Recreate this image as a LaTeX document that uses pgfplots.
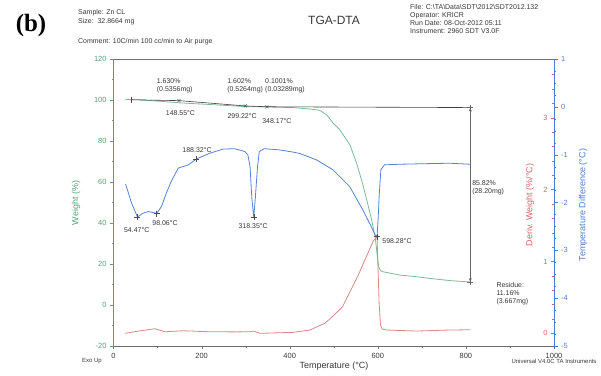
\documentclass[border=0pt]{standalone}
\usepackage{pgfplots}
\pgfplotsset{compat=1.18}
\usepackage{fontspec}
\setmainfont{Liberation Sans}
\newfontfamily\timesfont{Liberation Serif}
\usetikzlibrary{arrows.meta}

\definecolor{gax}{RGB}{85,160,115}
\definecolor{gline}{RGB}{125,185,150}
\definecolor{bax}{RGB}{75,125,210}
\definecolor{bline}{RGB}{85,130,210}
\definecolor{rax}{RGB}{205,105,105}
\definecolor{rline}{RGB}{215,135,135}
\definecolor{txt}{RGB}{55,55,55}
\definecolor{lgray}{RGB}{110,110,110}

\tikzset{annot/.style={font=\fontsize{7}{8.3}\selectfont, text=txt, inner sep=0}}

\pgfplotstableread{
T W
27 100.3
40 100.2
68 100.0
105 99.4
151 98.6
219 97.8
298 96.8
348 96.6
408 96.3
446 95.6
468 95.0
485 92.5
499 88.6
514 85.4
537 78.0
552 69.1
565 59.5
575 51.2
586 41.5
594 33.3
599 23.6
602 18.7
606 16.8
612 16.2
650 14.6
688 13.8
725 12.8
764 11.9
810 11.2
}\weight

\pgfplotstableread{
T D
27.5 -1.615
41 -2.013
54.47 -2.304
67 -2.223
79 -2.189
90 -2.210
98.06 -2.231
109 -2.082
120 -1.803
131 -1.560
147 -1.281
170 -1.213
188.32 -1.089
219 -0.969
249 -0.883
275 -0.875
298 -0.934
305 -1.003
310 -1.247
314 -1.900
318.35 -2.304
322 -1.900
327 -1.247
331 -0.934
342 -0.875
377 -0.900
410 -0.950
423 -0.975
461 -1.110
498 -1.315
536 -1.666
566 -2.154
585 -2.501
594 -2.680
598.28 -2.711
601 -2.300
603 -1.876
607 -1.315
615 -1.213
649 -1.200
700 -1.190
763 -1.179
810 -1.200
}\dta

\pgfplotstableread{
T R
26 0.000
60 0.035
94 0.064
117 0.022
158 0.036
219 0.022
280 0.020
310 0.022
317 0.032
333 0.000
408 0.014
446 0.046
465 0.100
480 0.140
500 0.250
520 0.370
537 0.580
555 0.800
567 0.970
580 1.150
590 1.290
598.28 1.343
600 1.000
603 0.420
606 0.120
610 0.060
620 0.046
688 0.032
762 0.046
810 0.050
}\deriv

\pgfplotsset{
  base/.style={
    scale only axis, width=440.5bp, height=287bp,
    at={(113.5bp,30bp)}, anchor=south west,
    xmin=0, xmax=1000, clip=false,
    /pgf/number format/assume math mode=true,
    /pgf/number format/set thousands separator={},
    tick label style={font=\fontsize{7.5}{8}\selectfont},
    major tick length=3.5bp, minor tick length=2bp,
  }
}

\begin{document}
\begin{tikzpicture}
\path[use as bounding box] (0bp,0bp) rectangle (601bp,376bp);

% main (weight) axis
\begin{axis}[base,
  ymin=-20, ymax=120,
  axis x line*=bottom, axis y line*=left,
  axis line style={-},
  x axis line style={lgray},
  y axis line style={gax},
  xtick={0,200,...,1000}, minor xtick={100,300,...,900},
  ytick={-20,0,...,120}, minor ytick={-10,10,...,110},
  tick align=outside,
  xtick style={lgray}, ytick style={gax},
  xticklabel style={txt},
  yticklabel style={gax},
]
\draw[lgray, line width=0.5bp] (rel axis cs:0,1) -- (rel axis cs:1,1);
\addplot[gline, line width=0.8bp] table[x=T, y=W] {\weight};
% step line
\addplot[black!75, line width=0.6bp] coordinates {(41,100.1) (148.55,99.7) (299.22,97.1) (348.17,96.7) (810,96.3)};
\addplot[only marks, mark=|, mark size=3bp, black!70] coordinates {(41,100.1)};
\addplot[only marks, mark=x, mark size=2.2bp, black!70] coordinates {(148.55,99.7) (299.22,97.1) (348.17,96.7)};
% arrow
\addplot[black!60, line width=0.6bp, {Stealth[length=4bp,width=3bp]}-{Stealth[length=4bp,width=3bp]}] coordinates {(810,96.3) (810,11.2)};
\addplot[only marks, mark=+, mark size=3bp, black!60] coordinates {(810,96.3) (810,11.2)};
% annotations
\node[annot, anchor=west, align=left] at (axis cs:98,106.8) {1.630\%\\(0.5356mg)};
\node[annot, anchor=west, align=left] at (axis cs:258,106.8) {1.602\%\\(0.5264mg)};
\node[annot, anchor=west, align=left] at (axis cs:344,106.8) {0.1001\%\\(0.03289mg)};
\node[annot] at (axis cs:152,93.8) {148.55°C};
\node[annot] at (axis cs:292,92.2) {299.22°C};
\node[annot] at (axis cs:371,89.8) {348.17°C};
\node[annot] at (axis cs:189.6,75.6) {188.32°C};
\node[annot] at (axis cs:52.7,36.6) {54.47°C};
\node[annot] at (axis cs:117,39.8) {98.06°C};
\node[annot] at (axis cs:317,38.5) {318.35°C};
\node[annot, anchor=west] at (axis cs:610,31.4) {598.28°C};
\node[annot, anchor=west, align=left] at (axis cs:814,57.1) {85.82\%\\(28.20mg)};
\node[annot, anchor=west, align=left] at (axis cs:869,5.5) {Residue:\\11.16\%\\(3.667mg)};
\end{axis}

% derivative axis
\begin{axis}[base,
  ymin=-0.176, ymax=3.815,
  axis x line=none, axis y line*=right,
  y axis line style={draw=none},
  ytick={0,1,2,3}, minor ytick={0.2,0.4,0.6,0.8,1.2,1.4,1.6,1.8,2.2,2.4,2.6,2.8,3.2,3.4,3.6},
  tick align=inside,
  ytick style={rax},
  yticklabel style={rax, anchor=east, xshift=-3bp},
]
\addplot[rline, line width=0.8bp] table[x=T, y=R] {\deriv};
\end{axis}

% DTA axis
\begin{axis}[base,
  ymin=-5, ymax=1,
  axis x line=none, axis y line*=right,
  axis line style={-},
  y axis line style={bax, line width=0.6bp},
  ytick={-5,...,1}, minor y tick num=3,
  tick align=outside,
  ytick style={bax},
  yticklabel style={bax},
]
\addplot[bline, line width=0.8bp] table[x=T, y=D] {\dta};
\addplot[only marks, mark=+, mark size=3bp, black!70] coordinates {(54.47,-2.304) (98.06,-2.231) (188.32,-1.089) (318.35,-2.304) (598.28,-2.711)};
\end{axis}

% axis titles
\node[gax, rotate=90, font=\fontsize{9}{10}\selectfont] at (76bp,173bp) {Weight (\%)};
\node[rax, rotate=90, font=\fontsize{9}{10}\selectfont] at (530bp,171bp) {Deriv. Weight (\%/°C)};
\node[bax, rotate=90, font=\fontsize{9}{10}\selectfont] at (583bp,171bp) {Temperature Difference (°C)};
\node[txt, font=\fontsize{9}{10}\selectfont] at (334bp,10bp) {Temperature (°C)};
\node[txt, font=\fontsize{6}{7}\selectfont] at (92bp,15bp) {Exo Up};
\node[txt, font=\fontsize{6}{7}\selectfont, anchor=east] at (600bp,15bp) {Universal V4.0C TA Instruments};

% header
\node[font=\timesfont\bfseries\fontsize{25}{28}\selectfont, inner sep=0] at (31bp,350bp) {(b)};
\node[txt, anchor=west, align=left, inner sep=0, font=\fontsize{7}{9}\selectfont] at (78bp,359bp) {Sample: Zn CL\\Size:\ \ 32.8664 mg};
\node[txt, anchor=west, inner sep=0, font=\fontsize{7}{8}\selectfont] at (78bp,334bp) {Comment: 10C/min 100 cc/min to Air purge};
\node[txt, inner sep=0, font=\fontsize{12}{14}\selectfont] at (334bp,356bp) {TGA-DTA};
\node[txt, anchor=west, align=left, inner sep=0, font=\fontsize{7}{7.8}\selectfont] at (410bp,357bp) {File: C:\textbackslash TA\textbackslash Data\textbackslash SDT\textbackslash 2012\textbackslash SDT2012.132\\Operator: KRICR\\Run Date: 08-Oct-2012 05:11\\Instrument: 2960 SDT V3.0F};
\end{tikzpicture}
\end{document}
